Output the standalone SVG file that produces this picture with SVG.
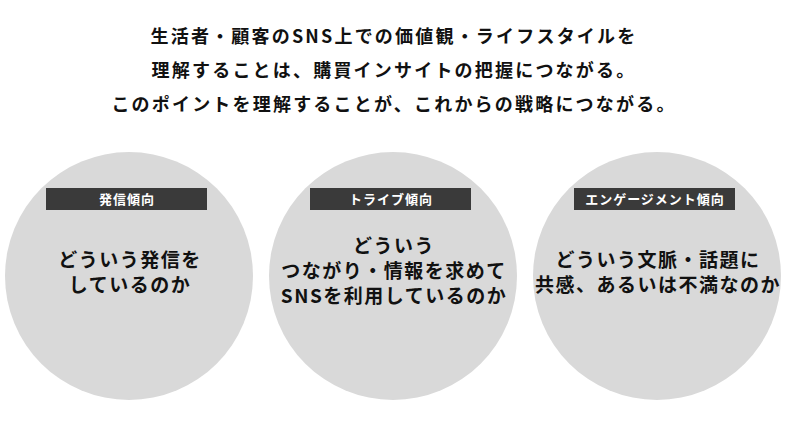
<svg xmlns="http://www.w3.org/2000/svg" width="786" height="434" viewBox="0 0 786 434">
<style>
text{font-family:"Noto Sans CJK JP","Noto Sans",sans-serif;font-weight:bold;text-anchor:middle;fill:#111}
.h{font-size:18px;letter-spacing:2.2px}
.c{fill:#d9d9d9}
.bar{fill:#3a3a3a}
.bt{font-size:13px;fill:#fff;letter-spacing:1px}
.b{font-size:19px;letter-spacing:1.5px}
</style>
<rect width="786" height="434" fill="#fff"/>
<g id="title">
<text class="h" x="394" y="43">生活者・顧客のSNS上での価値観・ライフスタイルを</text>
<text class="h" x="394" y="77">理解することは、購買インサイトの把握につながる。</text>
<text class="h" x="394" y="111">このポイントを理解することが、これからの戦略につながる。</text>
</g>
<g id="node1">
<circle class="c" cx="129" cy="276" r="124"/>
<rect class="bar" x="46" y="188" width="161" height="22"/>
<text class="bt" x="127" y="204">発信傾向</text>
<text class="b" x="130" y="267">どういう発信を</text>
<text class="b" x="130" y="292">しているのか</text>
</g>
<g id="node2">
<circle class="c" cx="393" cy="276" r="124"/>
<rect class="bar" x="310" y="188" width="161" height="22"/>
<text class="bt" x="391" y="204">トライブ傾向</text>
<text class="b" x="394" y="253">どういう</text>
<text class="b" x="394" y="278">つながり・情報を求めて</text>
<text class="b" x="394" y="303">SNSを利用しているのか</text>
</g>
<g id="node3">
<circle class="c" cx="657" cy="276" r="124"/>
<rect class="bar" x="574" y="188" width="161" height="22"/>
<text class="bt" x="655" y="204">エンゲージメント傾向</text>
<text class="b" x="658" y="267">どういう文脈・話題に</text>
<text class="b" x="658" y="292">共感、あるいは不満なのか</text>
</g>
<g id="connectors"/>
</svg>
